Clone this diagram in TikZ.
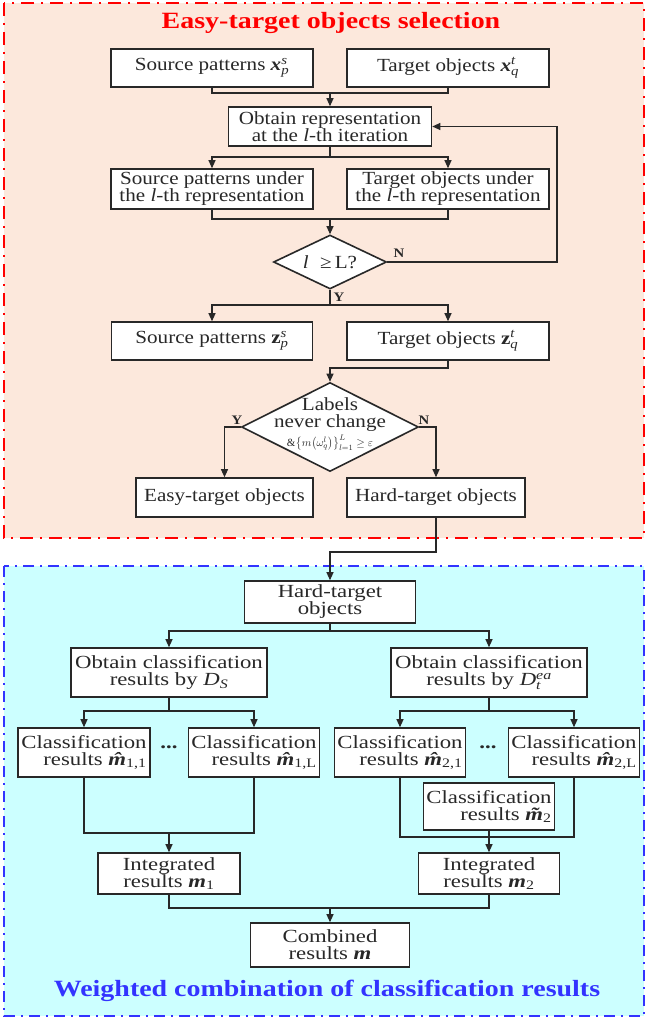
\documentclass[tikz,border=0pt]{standalone}
\usepackage{amsmath}
\usepackage{fontspec}
\setmainfont{Liberation Serif}
\newfontfamily\topfont[FakeStretch=1.14]{Liberation Serif}
\newfontfamily\botfont[FakeStretch=1.23]{Liberation Serif}
\newfontfamily\ttlfont[FakeStretch=1.2]{Liberation Serif}
\usetikzlibrary{arrows.meta,shapes.geometric}
\definecolor{peach}{RGB}{252,232,220}
\definecolor{cyanbg}{RGB}{204,255,255}
\definecolor{redline}{RGB}{255,0,0}
\definecolor{blueline}{RGB}{51,51,255}
\definecolor{ink}{RGB}{40,40,40}
\newcommand{\supsub}[2]{$^{\textit{#1}}_{\textit{#2}}$}
\newcommand{\subonly}[1]{$_{\textit{#1}}$}
\newcommand{\subup}[1]{$_{\textup{#1}}$}
\newcommand{\bvec}[1]{{\bfseries\itshape #1}}
\tikzset{
  box/.style={draw=ink, line width=1.6pt, fill=white, inner sep=0pt, align=center,
    font=\topfont\fontsize{18.5}{17}\selectfont, text=ink},
  bbox/.style={box, font=\botfont\fontsize{18.5}{17}\selectfont},
  dia/.style={draw=ink, line width=1.6pt, fill=white, diamond, inner sep=0pt},
  conn/.style={draw=ink, line width=1.1pt},
  arr/.style={conn, -{Triangle[length=8pt,width=7pt]}},
  lab/.style={font=\topfont\bfseries\fontsize{13}{13}\selectfont, text=ink, inner sep=0pt},
  ttl/.style={font=\ttlfont\bfseries\fontsize{23.3}{23}\selectfont, inner sep=0pt},
  redpanel/.style={draw=redline, line width=2.4pt, dash pattern=on 13pt off 7pt on 2pt off 7pt},
  bluepanel/.style={draw=blueline, line width=2.4pt, dash pattern=on 11pt off 6pt on 2pt off 6pt},
}
\begin{document}
\begin{tikzpicture}[x=1pt,y=-1pt]
\useasboundingbox (0,0) rectangle (647,1025);
% panels
\path[fill=peach] (4,3) rectangle (644,538);
\draw[redpanel] (4,3) rectangle (644,538);
\path[fill=cyanbg] (4,566) rectangle (644,1016);
\draw[bluepanel] (4,566) rectangle (644,1016);
% titles
\node[ttl, text=redline] (t1) at (331,23) {Easy-target objects selection};
\node[ttl, text=blueline] (t2) at (327,991) {Weighted combination of classification results};
% top nodes
\node[box, minimum width=202, minimum height=38] (src) at (212,68) {Source patterns \bvec{x}\supsub{s}{p}};
\node[box, minimum width=202, minimum height=38] (tgt) at (448,68) {Target objects \bvec{x}\supsub{t}{q}};
\node[box, minimum width=203, minimum height=39] (obt) at (330,126.5) {Obtain representation\\at the \textit{l}-th iteration};
\node[box, minimum width=202, minimum height=40] (srcl) at (212,189) {Source patterns under\\the \textit{l}-th representation};
\node[box, minimum width=202, minimum height=40] (tgtl) at (448,189) {Target objects under\\the \textit{l}-th representation};
\node[dia, minimum width=113, minimum height=54] (d1) at (330,262) {};
\node[font=\topfont\fontsize{18.5}{17}\selectfont, text=ink, inner sep=0pt] (d1t) at (330,262) {\textit{l}\,\, ≥\,L?};
\node[lab] (n1) at (399,253) {N};
\node[lab] (y1) at (339,297) {Y};
\node[box, minimum width=201, minimum height=38] (srcz) at (212,341) {Source patterns {\bfseries z}\supsub{s}{p}};
\node[box, minimum width=202, minimum height=38] (tgtz) at (448,341) {Target objects {\bfseries z}\supsub{t}{q}};
\node[dia, minimum width=177, minimum height=89] (d2) at (330,427) {};
\node[font=\topfont\fontsize{18.5}{17}\selectfont, text=ink, inner sep=0pt, align=center] (d2t) at (330,424)
  {Labels\\never change\\[2pt]{\fontsize{11}{11}\selectfont $\&\bigl\{m\bigl(\omega_q^{l}\bigr)\bigr\}_{l=1}^{L}\geq\varepsilon$}};
\node[lab] (y2) at (237,420) {Y};
\node[lab] (n2) at (424,420) {N};
\node[box, minimum width=177, minimum height=39] (easy) at (224.5,497.5) {Easy-target objects};
\node[box, minimum width=178, minimum height=39] (hard) at (436,497.5) {Hard-target objects};
% bottom nodes
\node[bbox, minimum width=171, minimum height=42] (hard2) at (330,602) {Hard-target\\objects};
\node[bbox, minimum width=196, minimum height=49] (obts) at (169,672.5) {Obtain classification\\results by \textit{D}\subonly{S}};
\node[bbox, minimum width=196, minimum height=49] (obtt) at (489,672.5) {Obtain classification\\results by \textit{D}\supsub{ea}{t}};
\node[bbox, minimum width=132, minimum height=49, align=right] (c11) at (84,752.5) {Classification\\results \bvec{\^m}\subup{1,1}};
\node[bbox, minimum width=131, minimum height=49, align=right] (c1L) at (254,752.5) {Classification\\results \bvec{\^m}\subup{1,L}};
\node[bbox, minimum width=131, minimum height=49, align=right] (c21) at (400,752.5) {Classification\\results \bvec{\^m}\subup{2,1}};
\node[bbox, minimum width=131, minimum height=49, align=right] (c2L) at (574,752.5) {Classification\\results \bvec{\^m}\subup{2,L}};
\node[font=\botfont\bfseries\fontsize{18.5}{17}\selectfont, text=ink, inner sep=0pt] (dt1) at (169,747) {...};
\node[font=\botfont\bfseries\fontsize{18.5}{17}\selectfont, text=ink, inner sep=0pt] (dt2) at (488,747) {...};
\node[bbox, minimum width=131, minimum height=47, align=right] (ct2) at (489,806.5) {Classification\\results \bvec{\~m}\subup{2}};
\node[bbox, minimum width=142, minimum height=41] (int1) at (169,873.5) {Integrated\\results \bvec{m}\subup{1}};
\node[bbox, minimum width=141, minimum height=41] (int2) at (489,873.5) {Integrated\\results \bvec{m}\subup{2}};
\node[bbox, minimum width=159, minimum height=44] (comb) at (330,945) {Combined\\results \bvec{m}};
% junctions
\coordinate (j1) at (330,93);
\coordinate (fb) at (557,262);
\coordinate (j2) at (330,157);
\coordinate (j3) at (330,219);
\coordinate (j4) at (330,305);
\coordinate (j5) at (330,368);
\coordinate (j6) at (330,552);
\coordinate (j7) at (330,631);
\coordinate (j8) at (169,711);
\coordinate (j9) at (489,711);
\coordinate (j10) at (169,833);
\coordinate (j11) at (489,837);
\coordinate (j12) at (330,908);
% connectors top
\draw[conn] (src.south) |- (j1) -| (tgt.south);
\draw[arr] (j1) -- (obt.north);
\draw[arr] (d1.east) -- (fb) |- (obt.east);
\draw[conn] (obt.south) -- (j2);
\draw[arr] (j2) -| (srcl.north);
\draw[arr] (j2) -| (tgtl.north);
\draw[conn] (srcl.south) |- (j3) -| (tgtl.south);
\draw[arr] (j3) -- (d1.north);
\draw[conn] (d1.south) -- (j4);
\draw[arr] (j4) -| (srcz.north);
\draw[arr] (j4) -| (tgtz.north);
\draw[arr] (tgtz.south) |- (j5) -- (d2.north);
\draw[arr] (d2.west) -| (easy.north);
\draw[arr] (d2.east) -| (hard.north);
\draw[arr] (hard.south) |- (j6) -- (hard2.north);
% connectors bottom
\draw[conn] (hard2.south) -- (j7);
\draw[arr] (j7) -| (obts.north);
\draw[arr] (j7) -| (obtt.north);
\draw[conn] (obts.south) -- (j8);
\draw[arr] (j8) -| (c11.north);
\draw[arr] (j8) -| (c1L.north);
\draw[conn] (obtt.south) -- (j9);
\draw[arr] (j9) -| (c21.north);
\draw[arr] (j9) -| (c2L.north);
\draw[conn] (c11.south) |- (j10) -| (c1L.south);
\draw[arr] (j10) -- (int1.north);
\draw[conn] (c21.south) |- (j11) -| (c2L.south);
\draw[arr] (ct2.south) -- (int2.north);
\draw[conn] (int1.south) |- (j12) -| (int2.south);
\draw[arr] (j12) -- (comb.north);
\end{tikzpicture}
\end{document}
